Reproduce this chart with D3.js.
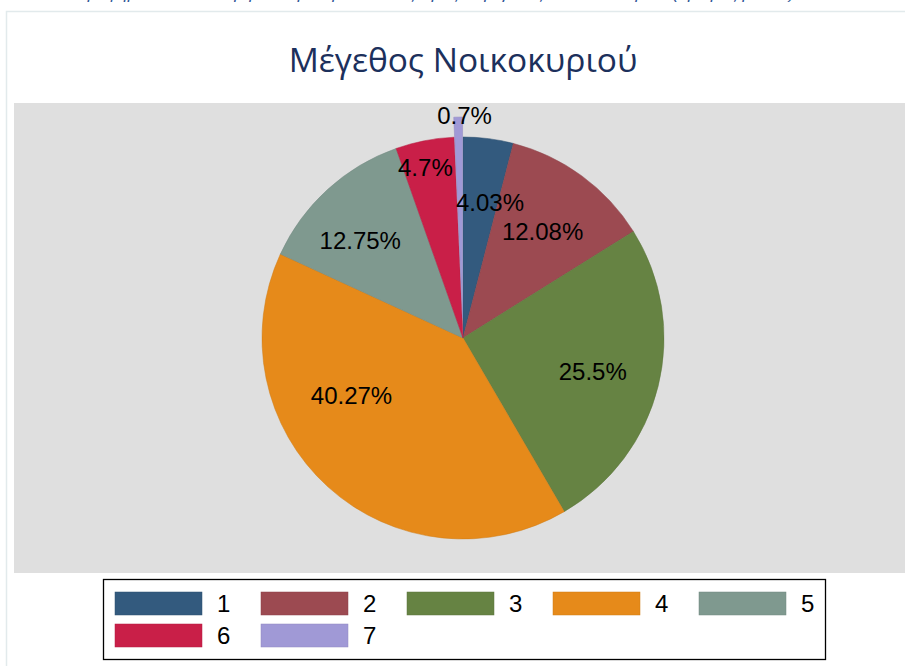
<!DOCTYPE html>
<html>
<head>
<meta charset="utf-8">
<script src="https://cdn.jsdelivr.net/npm/d3@7"></script>
<style>
  html, body { margin: 0; padding: 0; background: #ffffff; overflow: hidden; }
</style>
</head>
<body>
<div id="chart"></div>
<script>
// Household size pie chart (Stata style)
const categories = ['1', '2', '3', '4', '5', '6', '7'];
const shares = [4.03, 12.08, 25.5, 40.27, 12.75, 4.7, 0.7];
const shareLabels = ['4.03%', '12.08%', '25.5%', '40.27%', '12.75%', '4.7%', '0.7%'];
const exploded = ['7'];
const title = 'Μέγεθος Νοικοκυριού';
const caption = 'Γράφημα 12: Κατανομή των ερωτηθέντων ως προς το μέγεθος του νοικοκυριού (αριθμός μελών)';

const colors = ['#335a7e', '#9c4a51', '#668343', '#e68a1a', '#7f998f', '#c91f48', '#a099d6'];

// Layout tweaks for label placement (Stata puts some labels off the centroid)
const labelNudge = [[10, -2], [0, 2], [-1, 1], [-21, -42], [-12, 2], [-12, -38], [5, -68]];

const width = 905;
const height = 666;

const svg = d3.select('#chart')
  .append('svg')
  .attr('width', width)
  .attr('height', height)
  .style('font-family', '"Liberation Sans", Arial, sans-serif');

// Outer page frame
svg.append('rect')
  .attr('x', 6.5)
  .attr('y', 11.5)
  .attr('width', width + 10)
  .attr('height', height + 10)
  .attr('fill', '#ffffff')
  .attr('stroke', '#e2eaec')
  .attr('stroke-width', 1.5);

// Caption from the document, cut off at the top of the page
svg.append('text')
  .attr('x', 78)
  .attr('y', -1.5)
  .attr('fill', '#2f5597')
  .style('font-style', 'italic')
  .style('font-size', '17px')
  .text(caption);

// Title
svg.append('text')
  .attr('x', 463)
  .attr('y', 72)
  .attr('text-anchor', 'middle')
  .attr('fill', '#1c305c')
  .style('font-family', '"Open Sans", "Noto Sans", sans-serif')
  .style('font-size', '33.5px')
  .text(title);

// Plot region
svg.append('rect')
  .attr('x', 14)
  .attr('y', 103)
  .attr('width', width - 14)
  .attr('height', 470)
  .attr('fill', '#dfdfdf');

const cx = 463;
const cy = 338;
const radius = 201;
const explodeOffset = 20;

const pie = d3.pie().sort(null).value(d => d);
const arcs = pie(shares);
const arc = d3.arc().innerRadius(0).outerRadius(radius);
const labelArc = d3.arc().innerRadius(radius * 0.67).outerRadius(radius * 0.67);

const g = svg.append('g').attr('transform', `translate(${cx},${cy})`);

function shift(d, i) {
  if (!exploded.includes(categories[i])) return [0, 0];
  const mid = (d.startAngle + d.endAngle) / 2;
  return [Math.sin(mid) * explodeOffset, -Math.cos(mid) * explodeOffset];
}

g.selectAll('path.slice')
  .data(arcs)
  .join('path')
  .attr('class', 'slice')
  .attr('d', arc)
  .attr('transform', (d, i) => `translate(${shift(d, i)})`)
  .attr('fill', (d, i) => colors[i])
  .attr('stroke', (d, i) => d3.color(colors[i]).darker(0.3))
  .attr('stroke-width', 0.5);

g.selectAll('text.plabel')
  .data(arcs)
  .join('text')
  .attr('class', 'plabel')
  .attr('transform', (d, i) => {
    const c = labelArc.centroid(d);
    const s = shift(d, i);
    return `translate(${c[0] + s[0] + labelNudge[i][0]},${c[1] + s[1] + labelNudge[i][1]})`;
  })
  .attr('text-anchor', 'middle')
  .attr('dy', '0.35em')
  .attr('fill', '#000000')
  .style('font-size', '24px')
  .text((d, i) => shareLabels[i]);

// Legend
const legend = svg.append('g').attr('transform', 'translate(103,579)');

legend.append('rect')
  .attr('x', 0.5)
  .attr('y', 0.5)
  .attr('width', 722)
  .attr('height', 80)
  .attr('fill', '#ffffff')
  .attr('stroke', '#000000')
  .attr('stroke-width', 1.3);

const perRow = 5;
const colW = 146;
const rowH = 32;

const items = legend.selectAll('g.item')
  .data(categories)
  .join('g')
  .attr('class', 'item')
  .attr('transform', (d, i) => `translate(${12 + (i % perRow) * colW},${13 + Math.floor(i / perRow) * rowH})`);

items.append('rect')
  .attr('width', 87)
  .attr('height', 23)
  .attr('fill', (d, i) => colors[i])
  .attr('stroke', (d, i) => d3.color(colors[i]).darker(0.3))
  .attr('stroke-width', 0.5);

items.append('text')
  .attr('x', 102)
  .attr('y', 20)
  .attr('fill', '#000000')
  .style('font-size', '24px')
  .text(d => d);
</script>
</body>
</html>
